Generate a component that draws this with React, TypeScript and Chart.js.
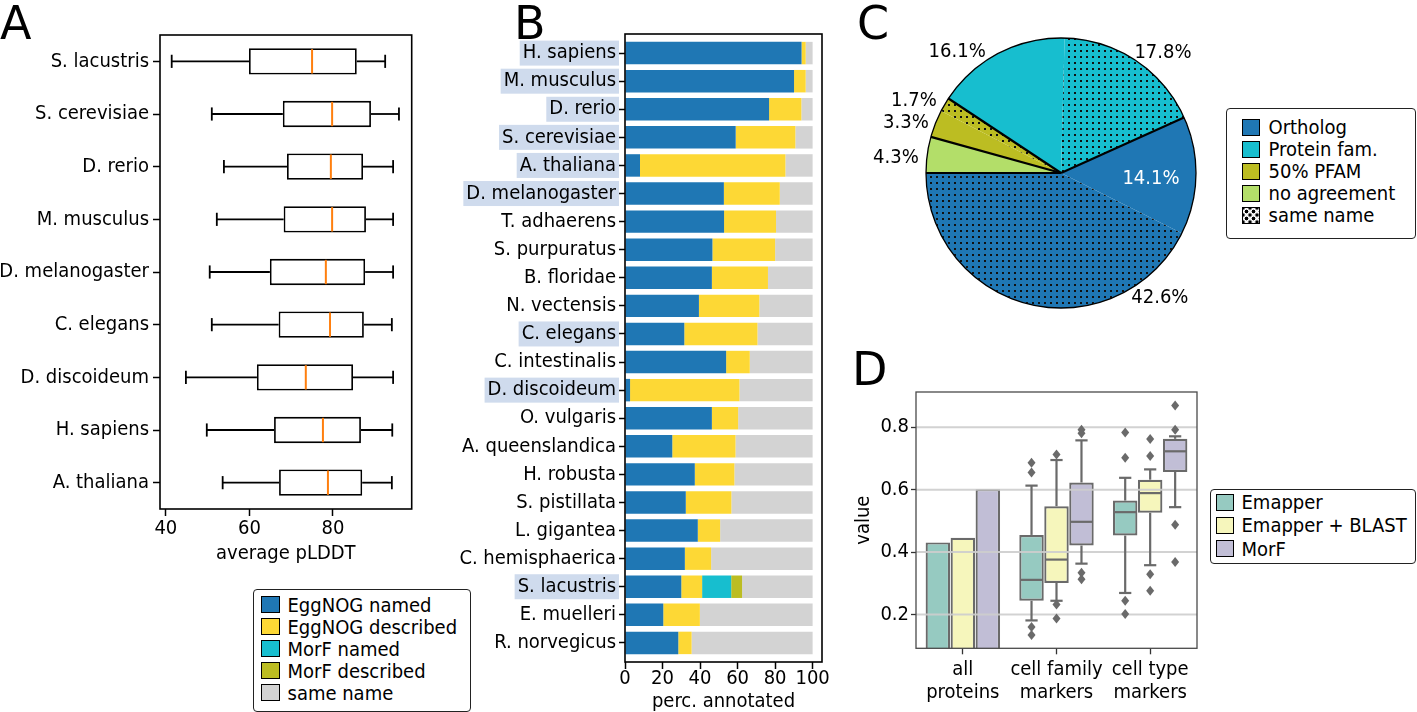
import React, { useEffect, useRef } from 'react';
import { Chart, registerables } from 'chart.js';

Chart.register(...registerables);

const FONT_FAMILY = "'DejaVu Sans Condensed', 'DejaVu Sans', sans-serif";
const LETTER_FAMILY = "'DejaVu Sans', sans-serif";
const FS = 20;
Chart.defaults.font.family = FONT_FAMILY;
Chart.defaults.font.size = FS;
Chart.defaults.color = '#000';

// ---------------- Panel A : average pLDDT box plots ----------------
const speciesA = ['S. lacustris', 'S. cerevisiae', 'D. rerio', 'M. musculus', 'D. melanogaster', 'C. elegans', 'D. discoideum', 'H. sapiens', 'A. thaliana'];
const plddtWhiskerLow = [41.4, 51.0, 53.9, 52.2, 50.5, 51.0, 44.8, 49.8, 53.6];
const plddtQ1 = [59.9, 68.0, 69.0, 68.2, 64.9, 67.0, 61.8, 65.9, 67.1];
const plddtMedian = [75.0, 79.8, 79.5, 79.8, 78.3, 79.3, 73.5, 77.6, 78.8];
const plddtQ3 = [85.7, 89.1, 87.2, 87.9, 87.7, 87.4, 84.8, 86.7, 87.0];
const plddtWhiskerHigh = [92.5, 95.8, 94.4, 94.4, 94.4, 94.1, 94.4, 94.2, 94.1];
const plddtTicks = [40, 60, 80];

// ---------------- Panel B : percentage annotated ----------------
const speciesB = ['H. sapiens', 'M. musculus', 'D. rerio', 'S. cerevisiae', 'A. thaliana', 'D. melanogaster', 'T. adhaerens', 'S. purpuratus', 'B. floridae', 'N. vectensis', 'C. elegans', 'C. intestinalis', 'D. discoideum', 'O. vulgaris', 'A. queenslandica', 'H. robusta', 'S. pistillata', 'L. gigantea', 'C. hemisphaerica', 'S. lacustris', 'E. muelleri', 'R. norvegicus'];
const highlightedB = ['H. sapiens', 'M. musculus', 'D. rerio', 'S. cerevisiae', 'A. thaliana', 'D. melanogaster', 'C. elegans', 'D. discoideum', 'S. lacustris'];
const eggnogNamed = [94.1, 90.1, 76.8, 59.0, 8.0, 52.7, 52.8, 46.6, 46.3, 39.4, 31.6, 53.9, 2.7, 46.3, 25.2, 37.2, 32.4, 38.8, 31.9, 30.0, 20.4, 28.4];
const eggnogDescribed = [2.2, 6.2, 17.2, 31.8, 77.5, 29.8, 27.7, 33.4, 29.9, 32.2, 39.0, 12.6, 58.3, 14.0, 33.7, 21.1, 24.3, 11.9, 14.0, 11.1, 19.5, 7.1];
const morfNamed = [0, 0, 0, 0, 0, 0, 0, 0, 0, 0, 0, 0, 0, 0, 0, 0, 0, 0, 0, 15.5, 0, 0];
const morfDescribed = [0, 0, 0, 0, 0, 0, 0, 0, 0, 0, 0, 0, 0, 0, 0, 0, 0, 0, 0, 5.8, 0, 0];
const sameNameB = [3.7, 3.7, 6.0, 9.2, 14.5, 17.5, 19.5, 20.0, 23.8, 28.4, 29.4, 33.5, 39.0, 39.7, 41.1, 41.7, 43.3, 49.3, 54.1, 37.6, 60.1, 64.5];
const seriesB = ['EggNOG named', 'EggNOG described', 'MorF named', 'MorF described', 'same name'];
const seriesBColors = ['#1f77b4', '#fdd835', '#17becf', '#bcbd22', '#d3d3d3'];
const pctTicks = [0, 20, 40, 60, 80, 100];

// ---------------- Panel C : pie ----------------
const pieCategories = ['Ortholog', 'Protein fam.', '50% PFAM', 'no agreement'];
const pieCategoryColors = ['#1f77b4', '#17becf', '#bcbd22', '#b3de69'];
const pieSliceCategory = ['no agreement', '50% PFAM', '50% PFAM', 'Protein fam.', 'Protein fam.', 'Ortholog', 'Ortholog'];
const pieSliceSameName = [false, false, true, false, true, false, true];
const pieValues = [4.3, 3.3, 1.7, 16.1, 17.8, 14.1, 42.6];
// label anchor: [screen angle in degrees, distance as fraction of radius]
const pieLabelAnchors = [[-174.7, 1.228], [-162, 1.208], [-153.8, 1.214], [-130.5, 1.184], [-49.7, 1.168], [3.6, 0.668], [51.6, 1.179]];
const pieLabelColors = ['#000', '#000', '#000', '#000', '#000', '#fff', '#000'];

// ---------------- Panel D : value by group ----------------
const dCategories = [['all', 'proteins'], ['cell family', 'markers'], ['cell type', 'markers']];
const dMethods = ['Emapper', 'Emapper + BLAST', 'MorF'];
const dColors = ['#96cac1', '#f6f6bc', '#c1bed6'];
const allProteinsValue = [0.431, 0.446, 0.602];
const famLow = [0.181, 0.244, 0.363];
const famQ1 = [0.244, 0.301, 0.421];
const famMedian = [0.311, 0.376, 0.497];
const famQ3 = [0.455, 0.547, 0.623];
const famHigh = [0.613, 0.695, 0.758];
const famOutliers = [[0.686, 0.655, 0.160, 0.134], [0.713, 0.232, 0.187], [0.792, 0.781, 0.334, 0.313]];
const typeLow = [0.269, 0.358, 0.544];
const typeQ1 = [0.453, 0.526, 0.657];
const typeMedian = [0.528, 0.589, 0.723];
const typeQ3 = [0.565, 0.632, 0.763];
const typeHigh = [0.638, 0.665, 0.771];
const typeOutliers = [[0.783, 0.702, 0.244, 0.202], [0.762, 0.708, 0.329, 0.276], [0.870, 0.792, 0.488, 0.368]];
const dTicks = [0.2, 0.4, 0.6, 0.8];

// ---------------- plugins ----------------
const framePlugin = {
  id: 'frame',
  afterDatasetsDraw(chart: any, _a: any, opts: any) {
    const { ctx, chartArea: a } = chart;
    ctx.save();
    ctx.strokeStyle = opts.color || '#000';
    ctx.lineWidth = opts.width || 1.5;
    ctx.strokeRect(a.left, a.top, a.right - a.left, a.bottom - a.top);
    ctx.restore();
  },
};

function line(ctx: CanvasRenderingContext2D, x1: number, y1: number, x2: number, y2: number) {
  ctx.beginPath();
  ctx.moveTo(x1, y1);
  ctx.lineTo(x2, y2);
  ctx.stroke();
}

const aBoxPlugin = {
  id: 'aBox',
  afterDatasetsDraw(chart: any) {
    const ctx = chart.ctx as CanvasRenderingContext2D;
    const xs = chart.scales.x;
    const meta = chart.getDatasetMeta(0);
    ctx.save();
    meta.data.forEach((bar: any, i: number) => {
      const y = bar.y;
      const h = bar.height;
      const xLo = xs.getPixelForValue(plddtWhiskerLow[i]);
      const xQ1 = xs.getPixelForValue(plddtQ1[i]);
      const xQ3 = xs.getPixelForValue(plddtQ3[i]);
      const xHi = xs.getPixelForValue(plddtWhiskerHigh[i]);
      const xMed = xs.getPixelForValue(plddtMedian[i]);
      ctx.strokeStyle = '#000';
      ctx.lineWidth = 1.8;
      line(ctx, xLo, y, xQ1, y);
      line(ctx, xQ3, y, xHi, y);
      line(ctx, xLo, y - h / 4, xLo, y + h / 4);
      line(ctx, xHi, y - h / 4, xHi, y + h / 4);
      ctx.strokeStyle = '#ff7f0e';
      ctx.lineWidth = 2;
      line(ctx, xMed, y - h / 2 + 1, xMed, y + h / 2 - 1);
    });
    ctx.restore();
  },
};

function diamond(ctx: CanvasRenderingContext2D, x: number, y: number, w: number, h: number) {
  ctx.beginPath();
  ctx.moveTo(x, y - h / 2);
  ctx.lineTo(x + w / 2, y);
  ctx.lineTo(x, y + h / 2);
  ctx.lineTo(x - w / 2, y);
  ctx.closePath();
  ctx.fill();
}

const D_GRAY = '#6a6a6a';

const dBoxPlugin = {
  id: 'dBox',
  afterDatasetsDraw(chart: any) {
    const ctx = chart.ctx as CanvasRenderingContext2D;
    const ys = chart.scales.y;
    const a = chart.chartArea;
    ctx.save();
    // grid drawn above the bar patches (matplotlib zorder)
    ctx.strokeStyle = 'rgba(205,205,205,0.9)';
    ctx.lineWidth = 2;
    ys.ticks.forEach((t: any) => {
      const py = ys.getPixelForValue(t.value);
      line(ctx, a.left, py, a.right, py);
    });
    const groups = [
      { low: famLow, q1: famQ1, med: famMedian, q3: famQ3, high: famHigh, out: famOutliers },
      { low: typeLow, q1: typeQ1, med: typeMedian, q3: typeQ3, high: typeHigh, out: typeOutliers },
    ];
    ctx.strokeStyle = D_GRAY;
    ctx.fillStyle = D_GRAY;
    ctx.lineWidth = 2.2;
    for (let d = 0; d < dMethods.length; d++) {
      const meta = chart.getDatasetMeta(d);
      groups.forEach((g, gi) => {
        const bar = meta.data[gi + 1];
        const x = bar.x;
        const w = bar.width;
        const py = (v: number) => ys.getPixelForValue(v);
        line(ctx, x, py(g.q3[d]), x, py(g.high[d]));
        line(ctx, x, py(g.q1[d]), x, py(g.low[d]));
        line(ctx, x - w / 4, py(g.high[d]), x + w / 4, py(g.high[d]));
        line(ctx, x - w / 4, py(g.low[d]), x + w / 4, py(g.low[d]));
        line(ctx, x - w / 2 + 1, py(g.med[d]), x + w / 2 - 1, py(g.med[d]));
        g.out[d].forEach((v) => diamond(ctx, x, py(v), 8, 10));
      });
    }
    ctx.restore();
  },
};

const piePlugin = {
  id: 'pieDecor',
  afterDatasetsDraw(chart: any) {
    const ctx = chart.ctx as CanvasRenderingContext2D;
    const arcs = chart.getDatasetMeta(0).data;
    if (!arcs.length) return;
    const cx = arcs[0].x;
    const cy = arcs[0].y;
    const r = arcs[0].outerRadius;
    ctx.save();
    ctx.strokeStyle = '#000';
    ctx.lineWidth = 2.2;
    arcs.forEach((arc: any, i: number) => {
      const prev = (i + arcs.length - 1) % arcs.length;
      if (pieSliceCategory[i] !== pieSliceCategory[prev]) {
        const ang = arc.startAngle;
        line(ctx, cx, cy, cx + r * Math.cos(ang), cy + r * Math.sin(ang));
      }
    });
    ctx.lineWidth = 1.3;
    ctx.beginPath();
    ctx.arc(cx, cy, r, 0, Math.PI * 2);
    ctx.stroke();
    ctx.font = `${FS}px ${FONT_FAMILY}`;
    ctx.textAlign = 'center';
    ctx.textBaseline = 'middle';
    arcs.forEach((_arc: any, i: number) => {
      const [deg, f] = pieLabelAnchors[i];
      const t = (deg * Math.PI) / 180;
      ctx.fillStyle = pieLabelColors[i];
      ctx.fillText(pieValues[i].toFixed(1) + '%', cx + f * r * Math.cos(t), cy + f * r * Math.sin(t));
    });
    ctx.restore();
  },
};

function dotPattern(color: string) {
  const c = document.createElement('canvas');
  c.width = 6;
  c.height = 6;
  const g = c.getContext('2d')!;
  g.fillStyle = color;
  g.fillRect(0, 0, 6, 6);
  g.fillStyle = '#111';
  g.fillRect(2, 2, 2, 2);
  return g.createPattern(c, 'repeat') as CanvasPattern;
}

const tickFont = { size: FS, family: FONT_FAMILY };

// ---------------- legend (HTML) ----------------
type LegendItem = { label: string; color: string; dotted?: boolean };
const DOT_BG = 'radial-gradient(circle, #000 1.6px, rgba(0,0,0,0) 2.2px) 0px 0px / 7px 7px, radial-gradient(circle, #000 1.6px, rgba(0,0,0,0) 2.2px) 3.5px 3.5px / 7px 7px, #fff';

function BoxLegend(props: {
  left: number; top: number; width: number; height: number; items: LegendItem[];
  firstCenter: number; spacing: number; patchLeft: number; patchW: number; textLeft: number;
}) {
  const { left, top, width, height, items, firstCenter, spacing, patchLeft, patchW, textLeft } = props;
  return (
    <div style={{ position: 'absolute', left, top, width, height, boxSizing: 'border-box', border: '1.5px solid #222', borderRadius: 4, background: '#fff' }}>
      {items.map((it, i) => (
        <React.Fragment key={it.label}>
          <div style={{ position: 'absolute', left: patchLeft - 1.5, top: firstCenter + i * spacing - 8.5 - 1.5, width: patchW, height: 17, boxSizing: 'border-box', border: '1.5px solid #000', background: it.dotted ? DOT_BG : it.color }} />
          <div style={{ position: 'absolute', left: textLeft - 1.5, top: firstCenter + i * spacing - 12 - 1.5, height: 24, lineHeight: '24px', fontSize: FS, whiteSpace: 'nowrap', color: '#000', fontFamily: FONT_FAMILY }}>{it.label}</div>
        </React.Fragment>
      ))}
    </div>
  );
}

const letterStyle = (left: number, top: number): React.CSSProperties => ({
  position: 'absolute', left, top, fontSize: 46, lineHeight: '46px', fontFamily: LETTER_FAMILY, color: '#000',
});

export default function App() {
  const aRef = useRef<HTMLCanvasElement>(null);
  const bRef = useRef<HTMLCanvasElement>(null);
  const cRef = useRef<HTMLCanvasElement>(null);
  const dRef = useRef<HTMLCanvasElement>(null);

  useEffect(() => {
    const charts: Chart[] = [];

    // ---- A ----
    const aW = 430, aH = 580;
    charts.push(new Chart(aRef.current!, {
      type: 'bar',
      data: {
        labels: speciesA,
        datasets: [{
          label: 'pLDDT',
          data: speciesA.map((_, i) => [plddtQ1[i], plddtQ3[i]]) as any,
          backgroundColor: '#fff',
          borderColor: '#000',
          borderWidth: 1.8,
          borderSkipped: false,
          barPercentage: 0.5,
          categoryPercentage: 1,
        }],
      },
      options: {
        indexAxis: 'y', animation: false, responsive: false, maintainAspectRatio: false, events: [],
        layout: { padding: { top: 35, right: aW - 411.7, left: 0, bottom: 0 } },
        plugins: { legend: { display: false }, tooltip: { enabled: false }, frame: { color: '#000', width: 1.6 } } as any,
        scales: {
          x: {
            type: 'linear', min: 38.6, max: 98.85,
            afterBuildTicks: (s: any) => { s.ticks = plddtTicks.map((value) => ({ value })); },
            afterFit: (s: any) => { s.height = aH - 509; },
            grid: { display: true, drawOnChartArea: false, tickLength: 7, tickColor: '#000', tickWidth: 1.5 },
            border: { display: false },
            ticks: { font: { size: FS, family: FONT_FAMILY, lineHeight: 1.0 }, color: '#000', padding: 3, maxRotation: 0, minRotation: 0 },
            title: { display: true, text: 'average pLDDT', font: tickFont, color: '#000', padding: { top: 0, bottom: 14 } },
          },
          y: {
            type: 'category',
            afterFit: (s: any) => { s.width = 160; },
            grid: { display: true, offset: false, drawOnChartArea: false, tickLength: 7, tickColor: '#000', tickWidth: 1.5 },
            border: { display: false },
            ticks: { font: tickFont, color: '#000', padding: 4, autoSkip: false },
          },
        },
      },
      plugins: [aBoxPlugin, framePlugin],
    } as any));

    // ---- B ----
    const bW = 400, bH = 712;
    const bValues = [eggnogNamed, eggnogDescribed, morfNamed, morfDescribed, sameNameB];
    charts.push(new Chart(bRef.current!, {
      type: 'bar',
      data: {
        datasets: seriesB.map((name, k) => ({
          label: name,
          data: bValues[k].map((v, i) => ({ x: v, y: i })),
          backgroundColor: seriesBColors[k],
          borderWidth: 0,
          barPercentage: 0.8,
          categoryPercentage: 1,
        })),
      },
      options: {
        indexAxis: 'y', animation: false, responsive: false, maintainAspectRatio: false, events: [],
        layout: { padding: { top: 34, right: bW - (822 - 440), left: 0, bottom: 0 } },
        plugins: { legend: { display: false }, tooltip: { enabled: false }, frame: { color: '#000', width: 1.6 } } as any,
        scales: {
          x: {
            type: 'linear', stacked: true, min: 0, max: 105,
            afterBuildTicks: (s: any) => { s.ticks = pctTicks.map((value) => ({ value })); },
            afterFit: (s: any) => { s.height = bH - 662; },
            grid: { display: true, drawOnChartArea: false, tickLength: 7, tickColor: '#000', tickWidth: 1.5 },
            border: { display: false },
            ticks: { font: { size: FS, family: FONT_FAMILY, lineHeight: 1.0 }, color: '#000', padding: 0, maxRotation: 0, minRotation: 0, autoSkip: false },
            title: { display: true, text: 'perc. annotated', font: { size: FS, family: FONT_FAMILY, lineHeight: 1.0 }, color: '#000', padding: { top: 0, bottom: 0 } },
          },
          y: {
            type: 'linear', stacked: true, reverse: true, min: -0.68, max: 21.68, offset: false,
            afterBuildTicks: (s: any) => { s.ticks = speciesB.map((_, i) => ({ value: i })); },
            afterFit: (s: any) => { s.width = 625 - 440; },
            grid: { display: true, offset: false, drawOnChartArea: false, tickLength: 6, tickColor: '#000', tickWidth: 1.5 },
            border: { display: false },
            ticks: {
              font: { size: FS, family: FONT_FAMILY, lineHeight: 1.1 }, color: '#000', padding: 3, autoSkip: false,
              callback: (v: any) => speciesB[v] ?? '',
              showLabelBackdrop: true,
              backdropColor: (ctx: any) => (highlightedB.includes(speciesB[ctx.index]) ? '#cfdbed' : 'rgba(0,0,0,0)'),
              backdropPadding: { top: 1.5, bottom: 1.5, left: 3, right: 3 },
            },
          },
        },
      },
      plugins: [framePlugin],
    } as any));

    // ---- C ----
    const sliceColors = pieSliceCategory.map((cat, i) => {
      const base = pieCategoryColors[pieCategories.indexOf(cat)];
      return pieSliceSameName[i] ? dotPattern(base) : base;
    });
    charts.push(new Chart(cRef.current!, {
      type: 'pie',
      data: {
        labels: pieSliceCategory.map((c, i) => (pieSliceSameName[i] ? c + ' (same name)' : c)),
        datasets: [{ data: pieValues, backgroundColor: sliceColors as any, borderWidth: 0 }],
      },
      options: {
        animation: false, responsive: false, maintainAspectRatio: false, events: [],
        rotation: -90,
        layout: { padding: { left: 76, right: 76, top: 38, bottom: 38 } },
        plugins: { legend: { display: false }, tooltip: { enabled: false } },
      },
      plugins: [piePlugin],
    } as any));

    // ---- D ----
    const dW = 360, dH = 334, dLeft = 845, dTop = 378;
    charts.push(new Chart(dRef.current!, {
      type: 'bar',
      data: {
        labels: dCategories as any,
        datasets: dMethods.map((m, i) => ({
          label: m,
          data: [[0, allProteinsValue[i]], [famQ1[i], famQ3[i]], [typeQ1[i], typeQ3[i]]] as any,
          backgroundColor: dColors[i],
          borderColor: D_GRAY,
          borderWidth: 2.2,
          borderSkipped: false,
          barPercentage: 0.98,
          categoryPercentage: 0.8,
        })),
      },
      options: {
        animation: false, responsive: false, maintainAspectRatio: false, events: [],
        layout: { padding: { top: 388.3 - dTop, right: dW - (1197 - dLeft), left: 0, bottom: 0 } },
        plugins: { legend: { display: false }, tooltip: { enabled: false }, frame: { color: '#4a4a4a', width: 1.3 } } as any,
        scales: {
          x: {
            type: 'category',
            afterFit: (s: any) => { s.height = dTop + dH - 648.3; },
            grid: { display: true, offset: false, drawOnChartArea: false, tickLength: 6, tickColor: '#333', tickWidth: 1.3 },
            border: { display: false },
            ticks: { font: { size: FS, family: FONT_FAMILY, lineHeight: 1.15 }, color: '#000', padding: 4, autoSkip: false, maxRotation: 0, minRotation: 0 },
          },
          y: {
            type: 'linear', min: 0.0917, max: 0.913,
            afterBuildTicks: (s: any) => { s.ticks = dTicks.map((value) => ({ value })); },
            afterFit: (s: any) => { s.width = 916 - dLeft; },
            grid: { display: true, drawOnChartArea: false, tickLength: 5, tickColor: '#333', tickWidth: 1.3 },
            border: { display: false },
            ticks: { font: tickFont, color: '#000', padding: 2, callback: (v: any) => Number(v).toFixed(1) },
            title: { display: true, text: 'value', font: tickFont, color: '#000', padding: { top: 7, bottom: 0 } },
          },
        },
      },
      plugins: [dBoxPlugin, framePlugin],
    } as any));

    return () => { charts.forEach((c) => c.destroy()); };
  }, []);

  const legendB: LegendItem[] = seriesB.map((s, i) => ({ label: s, color: seriesBColors[i] }));
  const legendC: LegendItem[] = [
    ...pieCategories.map((c, i) => ({ label: c, color: pieCategoryColors[i] })),
    { label: 'same name', color: '#fff', dotted: true },
  ];
  const legendD: LegendItem[] = dMethods.map((m, i) => ({ label: m, color: dColors[i] }));

  return (
    <div style={{ position: 'absolute', left: 0, top: 0, width: 1417, height: 712, overflow: 'hidden', background: '#fff', fontFamily: FONT_FAMILY }}>
      <canvas ref={aRef} width={430} height={580} style={{ position: 'absolute', left: 0, top: 0, width: 430, height: 580 }} />
      <canvas ref={bRef} width={400} height={712} style={{ position: 'absolute', left: 440, top: 0, width: 400, height: 712 }} />
      <canvas ref={cRef} width={422} height={346} style={{ position: 'absolute', left: 850, top: 0, width: 422, height: 346 }} />
      <canvas ref={dRef} width={360} height={334} style={{ position: 'absolute', left: 845, top: 378, width: 360, height: 334 }} />
      <div style={letterStyle(0, 0)}>A</div>
      <div style={letterStyle(514, 0)}>B</div>
      <div style={letterStyle(857, 0)}>C</div>
      <div style={letterStyle(852, 346)}>D</div>
      <BoxLegend left={253} top={589} width={218} height={123} items={legendB} firstCenter={16} spacing={22.1} patchLeft={8.7} patchW={19} textLeft={35} />
      <BoxLegend left={1226} top={108} width={190} height={131} items={legendC} firstCenter={19.5} spacing={22.1} patchLeft={16} patchW={18} textLeft={43} />
      <BoxLegend left={1210} top={489} width={206} height={75} items={legendD} firstCenter={13.7} spacing={23.2} patchLeft={6} patchW={18} textLeft={32} />
    </div>
  );
}
